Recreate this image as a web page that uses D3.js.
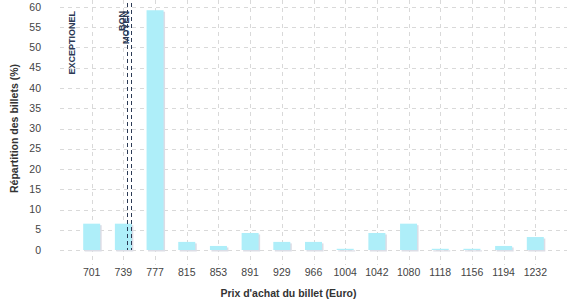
<!DOCTYPE html>
<html>
<head>
<meta charset="utf-8">
<script src="https://cdn.jsdelivr.net/npm/d3@7"></script>
<style>
  body { margin: 0; background: #fff; }
  svg { font-family: "Liberation Sans", Arial, sans-serif; }
  .grid line { stroke: #d9d9d9; stroke-dasharray: 4, 4; }
  .tick-label { font-size: 10.5px; fill: #444; }
  .axis-title { font-size: 10.5px; font-weight: bold; fill: #333; }
  .marker-label { font-size: 9px; font-weight: bold; fill: #2b3a55; }
</style>
</head>
<body>
<div id="chart"></div>
<script>
// prices (Euro) and share of tickets (%)
const prices = ["701", "739", "777", "815", "853", "891", "929", "966", "1004", "1042", "1080", "1118", "1156", "1194", "1232"];
const shares = [6.5, 6.5, 59.2, 2, 1, 4.2, 2, 2, 0.3, 4.2, 6.5, 0.3, 0.3, 1, 3.2];
const yTicks = [0, 5, 10, 15, 20, 25, 30, 35, 40, 45, 50, 55, 60];

// reference price markers
const markerNames = ["EXCEPTIONEL", "BON", "MOYEN"];
const markerPrices = [683, 743.5, 748.5];
const markerShown = [false, true, true];

const width = 577, height = 300;
const margin = { top: 7, right: 10, bottom: 50, left: 60 };

const svg = d3.select("#chart")
    .append("svg")
    .attr("width", width)
    .attr("height", height);

let x = d3.scaleBand()
    .domain(prices)
    .range([margin.left, width - margin.right])
    .paddingOuter(0.5)
    .paddingInner(0);

let y = d3.scaleLinear()
    .domain([0, 60])
    .range([height - margin.bottom, margin.top]);

// price value -> pixel, using the band centres
let xPrice = d3.scaleLinear()
    .domain([+prices[0], +prices[prices.length - 1]])
    .range([x(prices[0]) + x.bandwidth() / 2, x(prices[prices.length - 1]) + x.bandwidth() / 2]);

// horizontal grid
svg.append("g")
    .attr("class", "grid")
    .selectAll("line")
    .data(yTicks)
    .enter()
    .append("line")
    .attr("x1", margin.left)
    .attr("x2", width - margin.right)
    .attr("y1", d => Math.round(y(d)) + 0.5)
    .attr("y2", d => Math.round(y(d)) + 0.5);

// vertical grid
svg.append("g")
    .attr("class", "grid")
    .selectAll("line")
    .data(prices)
    .enter()
    .append("line")
    .attr("x1", d => Math.round(x(d) + x.bandwidth() / 2) + 0.5)
    .attr("x2", d => Math.round(x(d) + x.bandwidth() / 2) + 0.5)
    .attr("y1", 0)
    .attr("y2", y(0) + 15);

// y tick labels
svg.append("g")
    .selectAll("text")
    .data(yTicks)
    .enter()
    .append("text")
    .attr("class", "tick-label")
    .attr("x", 41)
    .attr("y", d => y(d))
    .attr("dy", "0.35em")
    .attr("text-anchor", "end")
    .text(d => d);

// x tick labels
svg.append("g")
    .selectAll("text")
    .data(prices)
    .enter()
    .append("text")
    .attr("class", "tick-label")
    .attr("x", d => x(d) + x.bandwidth() / 2)
    .attr("y", y(0) + 26)
    .attr("text-anchor", "middle")
    .text(d => d);

let barW = 17;

// bar shadows
svg.append("g")
    .selectAll("rect")
    .data(prices)
    .enter()
    .append("rect")
    .attr("x", (d, i) => x(d) + x.bandwidth() / 2 - barW / 2 + 1.5)
    .attr("y", (d, i) => y(shares[i]) + 1.5)
    .attr("width", barW)
    .attr("height", (d, i) => y(0) - y(shares[i]))
    .attr("fill", "#dcdde6");

// bars
svg.append("g")
    .selectAll("rect")
    .data(prices)
    .enter()
    .append("rect")
    .attr("x", (d, i) => x(d) + x.bandwidth() / 2 - barW / 2)
    .attr("y", (d, i) => y(shares[i]))
    .attr("width", barW)
    .attr("height", (d, i) => y(0) - y(shares[i]))
    .attr("fill", "#aeeef9");

// markers
markerNames.forEach((name, i) => {
    let mx = Math.round(xPrice(markerPrices[i])) + 0.5;
    if (markerShown[i]) {
        svg.append("line")
            .attr("x1", mx)
            .attr("x2", mx)
            .attr("y1", 3)
            .attr("y2", y(0))
            .attr("stroke", "#2b3a55")
            .attr("stroke-width", 1)
            .style("stroke-dasharray", "4, 3");
    }
    svg.append("text")
        .attr("class", "marker-label")
        .attr("transform", "translate(" + (mx - 3) + ",11) rotate(-90)")
        .attr("text-anchor", "end")
        .text(name);
});

// axis titles
svg.append("text")
    .attr("class", "axis-title")
    .attr("x", width / 2)
    .attr("y", 297)
    .attr("text-anchor", "middle")
    .text("Prix d'achat du billet (Euro)");

svg.append("text")
    .attr("class", "axis-title")
    .attr("transform", "translate(18," + ((y(0) + y(60)) / 2) + ") rotate(-90)")
    .attr("text-anchor", "middle")
    .text("Répartition des billets (%)");
</script>
</body>
</html>
